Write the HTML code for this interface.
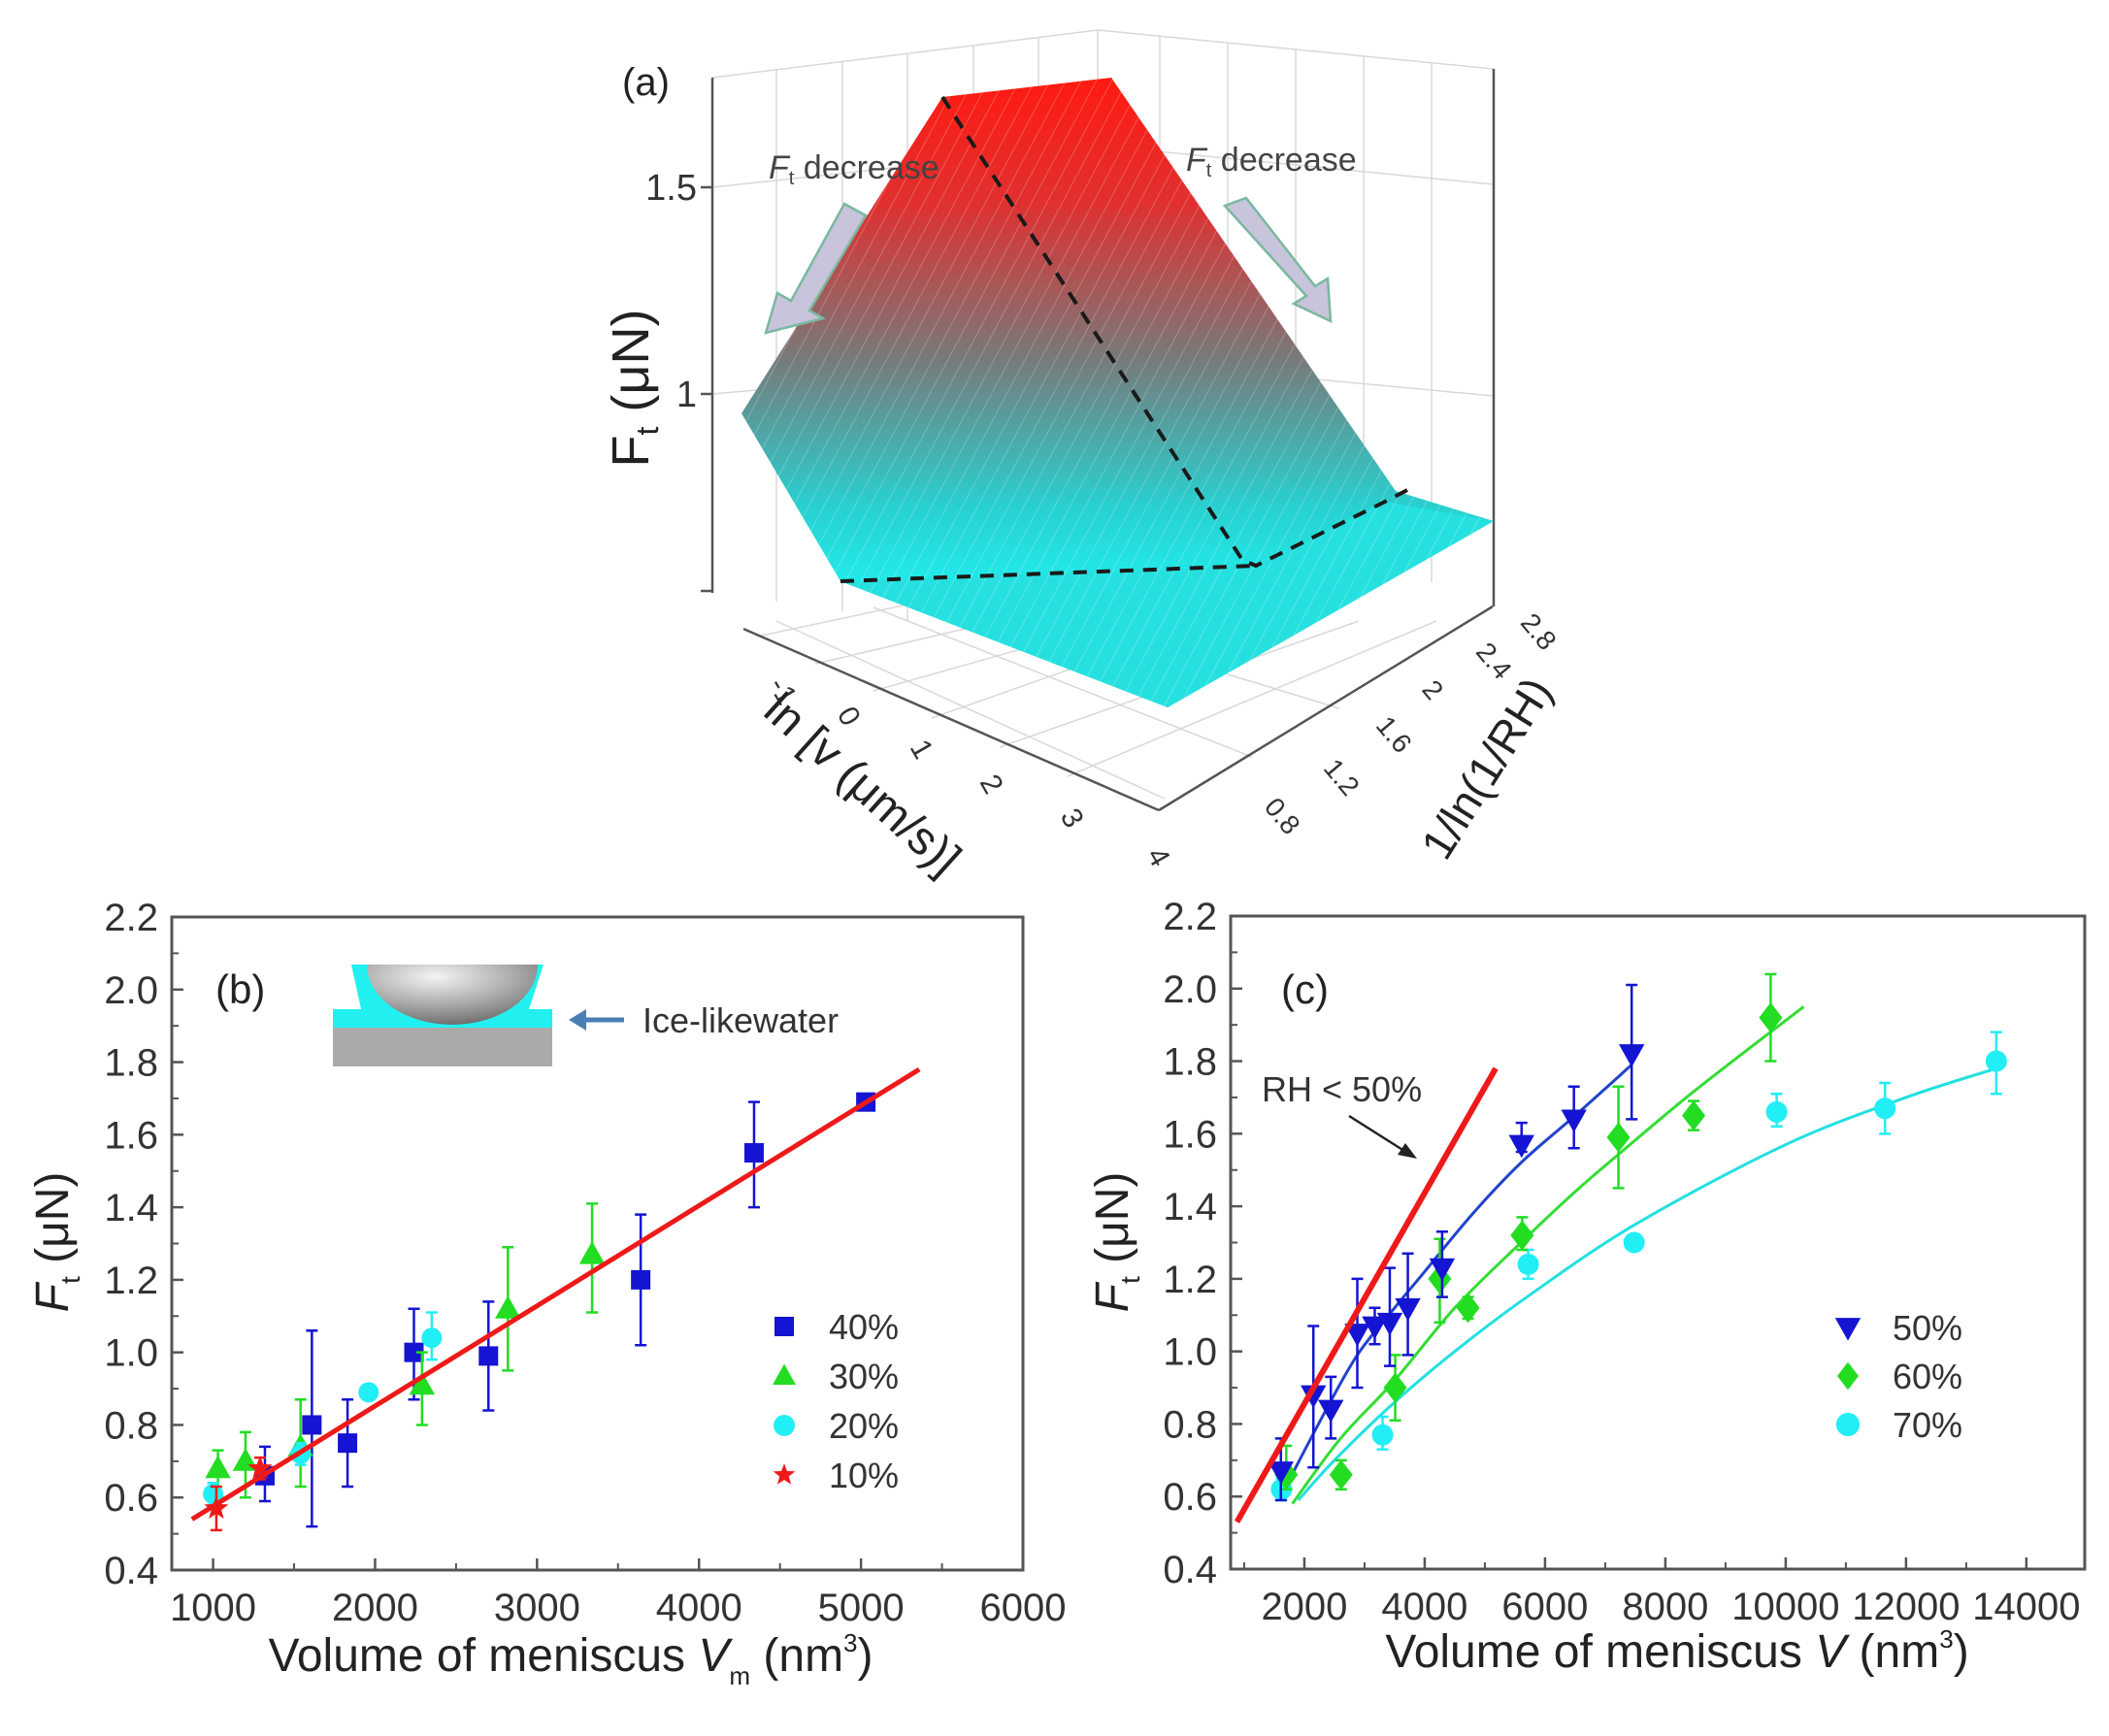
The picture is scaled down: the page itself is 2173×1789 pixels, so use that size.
<!DOCTYPE html>
<html><head><meta charset="utf-8"><style>
html,body{margin:0;padding:0;background:#fff;}
svg{display:block;font-family:"Liberation Sans",sans-serif;}
</style></head><body>
<svg id="root" width="2173" height="1789" viewBox="0 0 2173 1789" xmlns="http://www.w3.org/2000/svg">
<defs>
<linearGradient id="surfGrad" x1="0" y1="80" x2="0" y2="600" gradientUnits="userSpaceOnUse">
<stop offset="0" stop-color="#ff1a10"/><stop offset="0.25" stop-color="#e03030"/>
<stop offset="0.55" stop-color="#7a7878"/><stop offset="0.85" stop-color="#28d0d0"/><stop offset="1" stop-color="#22eaea"/>
</linearGradient>
<pattern id="stripes" width="14" height="14" patternUnits="userSpaceOnUse" patternTransform="rotate(28)">
<rect width="14" height="14" fill="none"/><line x1="0" y1="0" x2="0" y2="14" stroke="#ffffff" stroke-opacity="0.22" stroke-width="2"/>
</pattern>
<clipPath id="clipB"><rect x="177" y="945" width="877" height="673"/></clipPath>
<clipPath id="clipC"><rect x="1268" y="944" width="880" height="673"/></clipPath>
</defs>

<g id="panelA">
<g stroke="#d8d8d8" stroke-width="1.5" fill="none">
<line x1="734" y1="80" x2="1131" y2="31"/><line x1="1131" y1="31" x2="1539" y2="71"/>
<line x1="1131" y1="31" x2="1131" y2="560"/>
<line x1="800" y1="72" x2="800" y2="620"/><line x1="868" y1="63" x2="868" y2="630"/><line x1="935" y1="55" x2="935" y2="640"/><line x1="1003" y1="47" x2="1003" y2="600"/><line x1="1070" y1="39" x2="1070" y2="600"/>
<line x1="1195" y1="37" x2="1195" y2="560"/><line x1="1265" y1="44" x2="1265" y2="560"/><line x1="1335" y1="51" x2="1335" y2="560"/><line x1="1405" y1="58" x2="1405" y2="560"/><line x1="1475" y1="65" x2="1475" y2="600"/>
<line x1="734" y1="193" x2="1131" y2="150"/><line x1="1131" y1="150" x2="1539" y2="190"/>
<line x1="734" y1="406" x2="1131" y2="370"/><line x1="1131" y1="370" x2="1539" y2="408"/>
<line x1="780" y1="656" x2="1160" y2="575"/><line x1="840" y1="684" x2="1200" y2="600"/><line x1="900" y1="712" x2="1260" y2="610"/><line x1="960" y1="740" x2="1300" y2="620"/><line x1="1030" y1="770" x2="1400" y2="640"/><line x1="1100" y1="800" x2="1480" y2="640"/>
<line x1="800" y1="640" x2="1200" y2="823"/><line x1="900" y1="626" x2="1290" y2="780"/><line x1="1000" y1="614" x2="1380" y2="730"/>
</g>
<g stroke="#555" stroke-width="2.5" fill="none">
<line x1="734" y1="80" x2="734" y2="611"/>
<line x1="1539" y1="71" x2="1539" y2="625"/>
<line x1="766" y1="648" x2="1194" y2="835"/>
<line x1="1194" y1="835" x2="1538" y2="625"/>
<line x1="722" y1="193" x2="734" y2="193"/><line x1="722" y1="406" x2="734" y2="406"/><line x1="722" y1="609" x2="734" y2="609"/>
</g>
<polygon points="764,426 971,100 1145,80 1438,506 1539,537 1203,729 866,599" fill="url(#surfGrad)"/>
<polygon points="866,599 1294,583 1427,517 1539,537 1203,729" fill="#26e0e0"/>
<polygon points="764,426 971,100 1145,80 1438,506 1539,537 1203,729 866,599" fill="url(#stripes)"/>
<g stroke="#1a1a1a" stroke-width="4" stroke-dasharray="14,10" fill="none">
<polyline points="971,100 1280,577 1294,583 1427,517 1450,505"/>
<line x1="866" y1="599" x2="1294" y2="583"/>
</g>
<g fill="#c8c4dc" stroke="#7ab8a0" stroke-width="2.5">
<polygon points="870,210 892,222 834,320 848,328 789,343 801,302 815,310"/>
<polygon points="1262,212 1284,204 1355,295 1368,287 1371,331 1333,313 1346,305"/>
</g>
<text x="641" y="98" font-size="40" fill="#222">(a)</text>
<text x="792" y="184" font-size="34" fill="#444"><tspan font-style="italic">F</tspan><tspan font-size="20" dy="6">t</tspan><tspan dy="-6"> decrease</tspan></text>
<text x="1222" y="176" font-size="34" fill="#444"><tspan font-style="italic">F</tspan><tspan font-size="20" dy="6">t</tspan><tspan dy="-6"> decrease</tspan></text>
<g font-size="38" fill="#333" text-anchor="end">
<text x="718" y="206">1.5</text><text x="718" y="419">1</text>
</g>
<text transform="translate(668,400) rotate(-90)" font-size="54" text-anchor="middle" fill="#222">F<tspan font-size="32" dy="10">t</tspan><tspan dy="-10"> (μN)</tspan></text>
<g font-size="30" fill="#333" text-anchor="middle">
<text transform="translate(798,717) rotate(60)">-1</text><text transform="translate(866,743) rotate(60)">0</text><text transform="translate(941,777) rotate(60)">1</text><text transform="translate(1013,813) rotate(60)">2</text><text transform="translate(1096,848) rotate(60)">3</text><text transform="translate(1185,888) rotate(60)">4</text>
</g>
<g font-size="28" fill="#333" text-anchor="middle">
<text transform="translate(1314,847) rotate(50)">0.8</text><text transform="translate(1375,807) rotate(50)">1.2</text><text transform="translate(1429,763) rotate(50)">1.6</text><text transform="translate(1469,717) rotate(50)">2</text><text transform="translate(1532,687) rotate(50)">2.4</text><text transform="translate(1578,657) rotate(50)">2.8</text>
</g>
<text transform="translate(878,820) rotate(42)" font-size="48" text-anchor="middle" fill="#222">ln [v (μm/s)]</text>
<text transform="translate(1545,800) rotate(-58)" font-size="46" text-anchor="middle" fill="#222">1/ln(1/RH)</text>
</g>

<g id="panelB"></g>
<g id="panelC"></g>
</svg>
<script>
const bYTicks = [0.4,0.6,0.8,1.0,1.2,1.4,1.6,1.8,2.0,2.2];
const bXTicks = [1000,2000,3000,4000,5000,6000];
const b40x = [1320,1610,1830,2240,2700,3640,4340,5030];
const b40y = [0.66,0.80,0.75,1.00,0.99,1.20,1.55,1.69];
const b40lo = [0.59,0.52,0.63,0.87,0.84,1.02,1.40,1.67];
const b40hi = [0.74,1.06,0.87,1.12,1.14,1.38,1.69,1.71];
const b30x = [1030,1200,1540,2290,2820,3340];
const b30y = [0.68,0.70,0.74,0.91,1.12,1.27];
const b30lo = [0.60,0.60,0.63,0.80,0.95,1.11];
const b30hi = [0.73,0.78,0.87,1.00,1.29,1.41];
const b20x = [1000,1540,1960,2350];
const b20y = [0.61,0.72,0.89,1.04];
const b20lo = [0.58,0.69,0.87,0.98];
const b20hi = [0.64,0.75,0.91,1.11];
const b10x = [1020,1290];
const b10y = [0.57,0.68];
const b10lo = [0.51,0.65];
const b10hi = [0.63,0.71];
const bFitX = [870,5360];
const bFitY = [0.54,1.78];
const bLegend = ['40%','30%','20%','10%'];

const cYTicks = [0.4,0.6,0.8,1.0,1.2,1.4,1.6,1.8,2.0,2.2];
const cXTicks = [2000,4000,6000,8000,10000,12000,14000];
const c50x = [1610,2150,2440,2880,3170,3420,3720,4290,5610,6480,7440];
const c50y = [0.67,0.88,0.84,1.05,1.07,1.08,1.12,1.23,1.57,1.64,1.82];
const c50lo = [0.59,0.68,0.76,0.90,1.02,0.96,0.99,1.15,1.55,1.56,1.64];
const c50hi = [0.76,1.07,0.93,1.20,1.12,1.23,1.27,1.33,1.63,1.73,2.01];
const c60x = [1700,2610,3510,4250,4720,5620,7220,8470,9750];
const c60y = [0.66,0.66,0.90,1.20,1.12,1.32,1.59,1.65,1.92];
const c60lo = [0.62,0.62,0.81,1.08,1.09,1.28,1.45,1.61,1.80];
const c60hi = [0.74,0.70,0.99,1.31,1.15,1.37,1.73,1.69,2.04];
const c70x = [1620,3300,5720,7480,9850,11650,13500];
const c70y = [0.62,0.77,1.24,1.30,1.66,1.67,1.80];
const c70lo = [0.59,0.73,1.20,1.28,1.62,1.60,1.71];
const c70hi = [0.65,0.82,1.28,1.32,1.71,1.74,1.88];
const cFit50x = [1700,2300,2880,3500,4000,4800,5600,6500,7440];
const cFit50y = [0.63,0.82,0.99,1.12,1.22,1.38,1.52,1.65,1.79];
const cFit60x = [1800,2600,3500,4500,5600,6500,7200,8500,10300];
const cFit60y = [0.58,0.76,0.92,1.12,1.30,1.44,1.54,1.72,1.95];
const cFit70x = [1900,2500,3500,4500,5700,7500,10000,12000,13500];
const cFit70y = [0.59,0.70,0.86,1.00,1.15,1.35,1.57,1.70,1.78];
const cRedX = [880,5180];
const cRedY = [0.53,1.78];
const cLegend = ['50%','60%','70%'];

const NS='http://www.w3.org/2000/svg';
function mk(parent, tag, attrs, text){
  const e=document.createElementNS(NS,tag);
  for(const k in attrs) e.setAttribute(k,attrs[k]);
  if(text!==undefined) e.textContent=text;
  parent.appendChild(e); return e;
}
function axisFns(x0,x1,px0,px1,y0,y1,py0,py1){
  return {sx:v=>px0+(v-x0)/(x1-x0)*(px1-px0), sy:v=>py0+(v-y0)/(y1-y0)*(py1-py0)};
}
function marker(g,type,x,y,color,size){
  let m;
  const s=size;
  if(type==='square') m=mk(g,'rect',{x:x-s/2,y:y-s/2,width:s,height:s,fill:color});
  else if(type==='tri') m=mk(g,'polygon',{points:`${x},${y-s*0.62} ${x-s*0.6},${y+s*0.45} ${x+s*0.6},${y+s*0.45}`,fill:color});
  else if(type==='dtri') m=mk(g,'polygon',{points:`${x},${y+s*0.62} ${x-s*0.6},${y-s*0.45} ${x+s*0.6},${y-s*0.45}`,fill:color});
  else if(type==='circle') m=mk(g,'circle',{cx:x,cy:y,r:s*0.55,fill:color});
  else if(type==='diamond') m=mk(g,'polygon',{points:`${x},${y-s*0.65} ${x+s*0.5},${y} ${x},${y+s*0.65} ${x-s*0.5},${y}`,fill:color});
  else if(type==='star'){
    let pts=[];for(let i=0;i<10;i++){const r=i%2?s*0.25:s*0.6;const a=-Math.PI/2+i*Math.PI/5;pts.push((x+r*Math.cos(a)).toFixed(1)+','+(y+r*Math.sin(a)).toFixed(1));}
    m=mk(g,'polygon',{points:pts.join(' '),fill:color});
  }
  return m;
}
function frame(g,L,T,R,B,sx,sy,xt,yt,minorX,minorY){
  const f=mk(g,'rect',{x:L,y:T,width:R-L,height:B-T,fill:'none',stroke:'#555','stroke-width':3});
  
  
  yt.forEach(v=>{
    const y=sy(v);
    const t=mk(g,'line',{x1:L,y1:y,x2:L+12,y2:y,stroke:'#555','stroke-width':2.5});
    
    
    const lb=mk(g,'text',{x:L-14,y:y+14,'font-size':40,'text-anchor':'end',fill:'#333'},v.toFixed(1));
    
    
  });
  minorY.forEach(v=>{const y=sy(v);const t=mk(g,'line',{x1:L,y1:y,x2:L+7,y2:y,stroke:'#555','stroke-width':2});
    
    });
  xt.forEach(v=>{
    const x=sx(v);
    const t=mk(g,'line',{x1:x,y1:B,x2:x,y2:B-12,stroke:'#555','stroke-width':2.5});
    
    
    const lb=mk(g,'text',{x:x,y:B+52,'font-size':40,'text-anchor':'middle',fill:'#333'},String(v));
    
    
  });
  minorX.forEach(v=>{const x=sx(v);const t=mk(g,'line',{x1:x,y1:B,x2:x,y2:B-7,stroke:'#555','stroke-width':2});
    
    });
}
function series(g,name,xs,ys,lo,hi,type,color,size,sx,sy){
  const sg=mk(g,'g',{});
  
  
  xs.forEach((v,i)=>{
    const x=sx(v);
    const eb=mk(sg,'path',{d:`M${x},${sy(lo[i])}V${sy(hi[i])}M${x-6},${sy(lo[i])}H${x+6}M${x-6},${sy(hi[i])}H${x+6}`,stroke:color,'stroke-width':2.5,fill:'none'});
    
    
    const m=marker(sg,type,x,sy(ys[i]),color,size);
    
    
  });
}
function smoothPath(xs,ys,sx,sy){
  const p=xs.map((v,i)=>[sx(v),sy(ys[i])]);
  let d=`M${p[0][0]},${p[0][1]}`;
  for(let i=0;i<p.length-1;i++){
    const p0=p[i-1]||p[i],p1=p[i],p2=p[i+1],p3=p[i+2]||p2;
    const c1=[p1[0]+(p2[0]-p0[0])/6,p1[1]+(p2[1]-p0[1])/6];
    const c2=[p2[0]-(p3[0]-p1[0])/6,p2[1]-(p3[1]-p1[1])/6];
    d+=`C${c1[0]},${c1[1]} ${c2[0]},${c2[1]} ${p2[0]},${p2[1]}`;
  }
  return d;
}
function legendRow(g,type,color,x,y,label,size){
  const lg=mk(g,'g',{});
  
  
  marker(lg,type,x,y,color,size);
  mk(lg,'text',{x:x+46,y:y+13,'font-size':36,fill:'#333'},label);
}

(function(){
  const g=document.getElementById('panelB');
  const L=177,T=945,R=1054,B=1618;
  const {sx,sy}=axisFns(745,6000,L,R,0.4,2.2,B,T);
  frame(g,L,T,R,B,sx,sy,bXTicks,bYTicks,[1500,2500,3500,4500,5500],[0.5,0.7,0.9,1.1,1.3,1.5,1.7,1.9,2.1]);
  const ins=mk(g,'g',{});
  
  
  mk(ins,'defs',{}).innerHTML='<radialGradient id="ball" cx="0.4" cy="0.2" r="0.8"><stop offset="0" stop-color="#f4f4f4"/><stop offset="0.6" stop-color="#a8a8a8"/><stop offset="1" stop-color="#707070"/></radialGradient>';
  mk(ins,'rect',{x:343,y:1059,width:226,height:40,fill:'#aaaaaa'});
  mk(ins,'path',{d:'M362,994 L400,994 A88,62 0 0 0 530,994 L560,994 L545,1040 L569,1040 L569,1059 L343,1059 L343,1040 L372,1040 Z',fill:'#22f0f0'});
  mk(ins,'path',{d:'M378,994 A88,62 0 0 0 554,994 Z',fill:'url(#ball)'});
  mk(ins,'path',{d:'M643,1051 H600',stroke:'#4a7fb5','stroke-width':5,fill:'none'});
  mk(ins,'polygon',{points:'586,1051 604,1040 604,1062',fill:'#4a7fb5'});
  const it=mk(g,'text',{x:662,y:1064,'font-size':36,fill:'#333'},'Ice-likewater');
  
  
  const pl=mk(g,'text',{x:222,y:1034,'font-size':42,fill:'#222'},'(b)');
  
  
  const cg=mk(g,'g',{'clip-path':'url(#clipB)'});
  series(cg,'series-40',b40x,b40y,b40lo,b40hi,'square','#1414d2',20,sx,sy);
  series(cg,'series-30',b30x,b30y,b30lo,b30hi,'tri','#22dd22',22,sx,sy);
  series(cg,'series-20',b20x,b20y,b20lo,b20hi,'circle','#22eef5',19,sx,sy);
  series(cg,'series-10',b10x,b10y,b10lo,b10hi,'star','#ee1a1a',22,sx,sy);
  const fit=mk(cg,'line',{x1:sx(bFitX[0]),y1:sy(bFitY[0]),x2:sx(bFitX[1]),y2:sy(bFitY[1]),stroke:'#ee1a1a','stroke-width':5});
  
  
  const types=['square','tri','circle','star'],cols=['#1414d2','#22dd22','#22eef5','#ee1a1a'];
  bLegend.forEach((lab,i)=>legendRow(g,types[i],cols[i],808,1367+i*51,lab,20));
  const xt=mk(g,'text',{x:588,y:1722,'font-size':48,'text-anchor':'middle',fill:'#222'});
  
  
  xt.innerHTML='Volume of meniscus <tspan font-style="italic">V</tspan><tspan font-size="26" dy="14">m</tspan><tspan dy="-14"> (nm</tspan><tspan font-size="26" dy="-20">3</tspan><tspan dy="20">)</tspan>';
  const yt=mk(g,'text',{transform:'translate(70,1280) rotate(-90)','font-size':48,'text-anchor':'middle',fill:'#222'});
  
  
  yt.innerHTML='<tspan font-style="italic">F</tspan><tspan font-size="28" dy="12">t</tspan><tspan dy="-12"> (μN)</tspan>';
})();

(function(){
  const g=document.getElementById('panelC');
  const L=1268,T=944,R=2148,B=1617;
  const {sx,sy}=axisFns(775,14970,L,R,0.4,2.2,B,T);
  frame(g,L,T,R,B,sx,sy,cXTicks,cYTicks,[1000,3000,5000,7000,9000,11000,13000],[0.5,0.7,0.9,1.1,1.3,1.5,1.7,1.9,2.1]);
  const pl=mk(g,'text',{x:1320,y:1034,'font-size':42,fill:'#222'},'(c)');
  
  
  const cg=mk(g,'g',{'clip-path':'url(#clipC)'});
  const curves=[[cFit50x,cFit50y,'#2244cc','fit-50'],[cFit60x,cFit60y,'#33dd33','fit-60'],[cFit70x,cFit70y,'#22e0e0','fit-70']];
  curves.forEach(c=>{
    const p=mk(cg,'path',{d:smoothPath(c[0],c[1],sx,sy),stroke:c[2],'stroke-width':3,fill:'none'});
    
    
  });
  series(cg,'series-70',c70x,c70y,c70lo,c70hi,'circle','#22eef5',20,sx,sy);
  series(cg,'series-60',c60x,c60y,c60lo,c60hi,'diamond','#22dd22',24,sx,sy);
  series(cg,'series-50',c50x,c50y,c50lo,c50hi,'dtri','#1414d2',22,sx,sy);
  const red=mk(cg,'line',{x1:sx(cRedX[0]),y1:sy(cRedY[0]),x2:sx(cRedX[1]),y2:sy(cRedY[1]),stroke:'#ee1a1a','stroke-width':6});
  
  
  const an=mk(g,'text',{x:1300,y:1135,'font-size':36,fill:'#333'},'RH < 50%');
  
  
  const ar=mk(g,'path',{d:'M1390,1150 L1450,1188',stroke:'#222','stroke-width':2.5,fill:'none'});
  
  
  mk(g,'polygon',{points:'1460,1194 1440,1190 1448,1178',fill:'#222'});
  const types=['dtri','diamond','circle'],cols=['#1414d2','#22dd22','#22eef5'];
  cLegend.forEach((lab,i)=>legendRow(g,types[i],cols[i],1904,1368+i*50,lab,22));
  const xt=mk(g,'text',{x:1728,y:1718,'font-size':48,'text-anchor':'middle',fill:'#222'});
  
  
  xt.innerHTML='Volume of meniscus <tspan font-style="italic">V</tspan> (nm<tspan font-size="26" dy="-20">3</tspan><tspan dy="20">)</tspan>';
  const yt=mk(g,'text',{transform:'translate(1162,1280) rotate(-90)','font-size':48,'text-anchor':'middle',fill:'#222'});
  
  
  yt.innerHTML='<tspan font-style="italic">F</tspan><tspan font-size="28" dy="12">t</tspan><tspan dy="-12"> (μN)</tspan>';
})();
</script>
</body></html>
